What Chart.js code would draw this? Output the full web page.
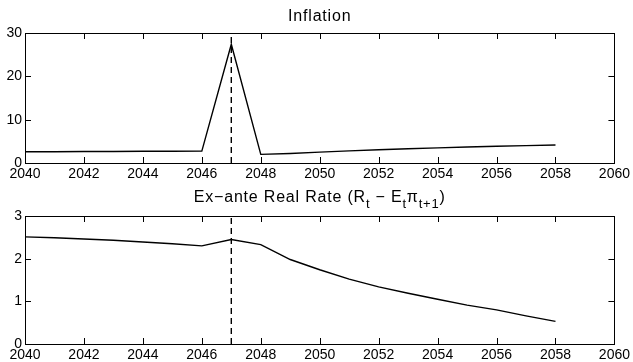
<!DOCTYPE html>
<html>
<head>
<meta charset="utf-8">
<script src="https://cdn.jsdelivr.net/npm/chart.js@4.4.1/dist/chart.umd.min.js"></script>
<style>
  html, body { margin: 0; padding: 0; background: #fff; }
  body { width: 633px; height: 362px; position: relative; overflow: hidden; }
  canvas { position: absolute; left: 0; }
  #top { top: 0; }
  #bottom { top: 181px; }
</style>
</head>
<body>
<canvas id="top" width="633" height="181"></canvas>
<canvas id="bottom" width="633" height="181"></canvas>
<script>
// Simulation horizon (annual)
const years = [2040, 2041, 2042, 2043, 2044, 2045, 2046, 2047, 2048, 2049,
               2050, 2051, 2052, 2053, 2054, 2055, 2056, 2057, 2058];

// Inflation path
const inflation = [2.6, 2.6, 2.65, 2.65, 2.7, 2.7, 2.75, 27.4, 2.0, 2.2,
                   2.5, 2.8, 3.05, 3.3, 3.5, 3.7, 3.85, 4.0, 4.15];

// Ex-ante real rate path
const realRate = [2.51, 2.49, 2.46, 2.43, 2.39, 2.35, 2.30, 2.45, 2.33, 1.98,
                  1.74, 1.52, 1.34, 1.19, 1.05, 0.91, 0.80, 0.66, 0.53];

// Shock date marked by the dashed vertical line
const shockYear = 2047;

// Axis ranges and tick spacing
const xRange = [2040, 2060];
const xStep = 2;
const inflationRange = [0, 30];
const inflationStep = 10;
const rateRange = [0, 3];
const rateStep = 1;

const FONT = '"Liberation Sans", Arial, Helvetica, sans-serif';

// Box around the axes with inward-pointing tick marks on all four sides
const framePlugin = {
  id: 'frame',
  afterDraw(chart) {
    const { ctx, chartArea: a, scales } = chart;
    const len = 6;
    ctx.save();
    ctx.strokeStyle = '#000';
    ctx.lineWidth = 1;
    ctx.strokeRect(Math.round(a.left) + 0.5, Math.round(a.top) + 0.5,
                   Math.round(a.right - a.left), Math.round(a.bottom - a.top));
    ctx.beginPath();
    scales.x.ticks.forEach(t => {
      const px = Math.round(scales.x.getPixelForValue(t.value)) + 0.5;
      ctx.moveTo(px, a.bottom); ctx.lineTo(px, a.bottom - len);
      ctx.moveTo(px, a.top); ctx.lineTo(px, a.top + len);
    });
    scales.y.ticks.forEach(t => {
      const py = Math.round(scales.y.getPixelForValue(t.value)) + 0.5;
      ctx.moveTo(a.left, py); ctx.lineTo(a.left + len, py);
      ctx.moveTo(a.right, py); ctx.lineTo(a.right - len, py);
    });
    ctx.stroke();
    ctx.restore();
  }
};

// Title with TeX-like subscripts, centred over the axes
const richTitlePlugin = {
  id: 'richTitle',
  afterDraw(chart, args, opts) {
    if (!opts.parts) return;
    const { ctx, chartArea: a } = chart;
    const mainFont = `${opts.size}px ${FONT}`;
    const subFont = `${opts.subSize}px ${FONT}`;
    ctx.save();
    ctx.fillStyle = '#000';
    ctx.textBaseline = 'alphabetic';
    ctx.textAlign = 'left';
    if ('letterSpacing' in ctx) ctx.letterSpacing = opts.spacing + 'px';
    let total = 0;
    const widths = opts.parts.map(p => {
      ctx.font = p.sub ? subFont : mainFont;
      const w = ctx.measureText(p.text).width;
      total += w;
      return w;
    });
    let x = (a.left + a.right) / 2 - total / 2;
    opts.parts.forEach((p, i) => {
      ctx.font = p.sub ? subFont : mainFont;
      ctx.fillText(p.text, x, opts.baseline + (p.sub ? opts.subShift : 0));
      x += widths[i];
    });
    ctx.restore();
  }
};

function makePanel(canvasId, values, yRange, yStep, titleParts, padTop) {
  const pts = years.map((yr, i) => ({ x: yr, y: values[i] }));
  const marker = [{ x: shockYear, y: yRange[0] }, { x: shockYear, y: yRange[1] }];
  return new Chart(document.getElementById(canvasId), {
    type: 'line',
    data: {
      datasets: [
        { data: pts, borderColor: '#000', borderWidth: 1.4, pointRadius: 0, tension: 0, fill: false },
        { data: marker, borderColor: '#000', borderWidth: 1.4, borderDash: [6, 4], pointRadius: 0, fill: false }
      ]
    },
    options: {
      responsive: false,
      animation: false,
      devicePixelRatio: 1,
      layout: { padding: { top: padTop, right: 18, left: 0, bottom: 0 } },
      plugins: {
        legend: { display: false },
        tooltip: { enabled: false },
        richTitle: { parts: titleParts, size: 16, subSize: 13, subShift: 6, spacing: 0.8, baseline: 20.5 }
      },
      scales: {
        x: {
          type: 'linear', min: xRange[0], max: xRange[1],
          afterFit(s) { s.height = 18; },
          grid: { display: false, drawTicks: false },
          border: { display: true, color: '#000', width: 1 },
          ticks: {
            stepSize: xStep, padding: 3, color: '#000', maxRotation: 0, autoSkip: false,
            font: { family: FONT, size: 14 },
            callback: v => String(v)
          }
        },
        y: {
          min: yRange[0], max: yRange[1],
          afterFit(s) { s.width = 25; },
          grid: { display: false, drawTicks: false },
          border: { display: true, color: '#000', width: 1 },
          ticks: {
            stepSize: yStep, padding: 3, color: '#000',
            font: { family: FONT, size: 14 },
            callback: v => String(v)
          }
        }
      }
    },
    plugins: [framePlugin, richTitlePlugin]
  });
}

makePanel('top', inflation, inflationRange, inflationStep,
  [{ text: 'Inflation' }], 33);

makePanel('bottom', realRate, rateRange, rateStep,
  [
    { text: 'Ex\u2212ante Real Rate (R' },
    { text: 't', sub: true },
    { text: ' \u2212 E' },
    { text: 't', sub: true },
    { text: '\u03C0' },
    { text: 't+1', sub: true },
    { text: ')' }
  ], 35);
</script>
</body>
</html>
